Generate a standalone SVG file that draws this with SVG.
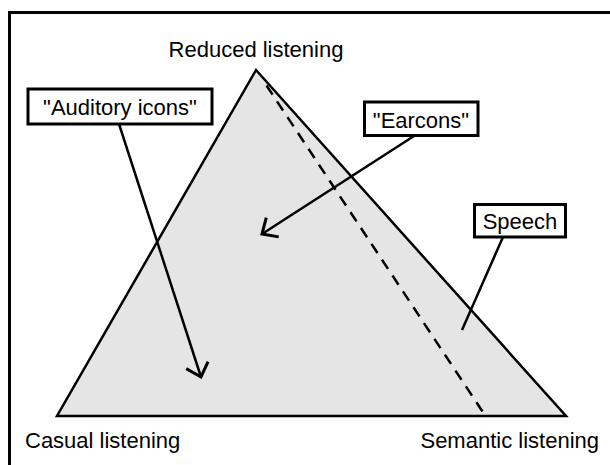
<svg xmlns="http://www.w3.org/2000/svg" width="610" height="465" viewBox="0 0 610 465">
  <style>
    text { font-family: "Liberation Sans", Arial, sans-serif; font-size: 22px; fill: #000; }
    .box { fill: #fff; stroke: #000; stroke-width: 3; }
    .conn { fill: none; stroke: #000; stroke-width: 2.5; }
  </style>
  <defs>
    <marker id="vhead" markerUnits="userSpaceOnUse" markerWidth="40" markerHeight="40" refX="0" refY="0" viewBox="-20 -20 40 40" orient="auto" overflow="visible">
      <path d="M -12.5 -11.5 L 0 0 L -12.5 11.5" fill="none" stroke="#000" stroke-width="3" stroke-linejoin="miter"/>
    </marker>
  </defs>
  <rect width="610" height="465" fill="#fff"/>
  <rect x="9.5" y="12.5" width="620" height="470" fill="none" stroke="#000" stroke-width="3"/>

  <g id="triangle">
    <polygon points="256,70 566,416 57,416" fill="#e5e5e5" stroke="#000" stroke-width="2.5" stroke-linejoin="miter"/>
    <path d="M 266.5 85.5 L 485.5 416" fill="none" stroke="#000" stroke-width="2.5" stroke-dasharray="11 8"/>
  </g>

  <g id="reduced">
    <text x="256" y="57" text-anchor="middle">Reduced listening</text>
  </g>
  <g id="casual">
    <text x="25" y="448">Casual listening</text>
  </g>
  <g id="semantic">
    <text x="599" y="448" text-anchor="end">Semantic listening</text>
  </g>

  <g id="connectors">
    <line class="conn" x1="119" y1="124" x2="201" y2="377" marker-end="url(#vhead)"/>
    <line class="conn" x1="414" y1="136" x2="262" y2="234" marker-end="url(#vhead)"/>
    <line class="conn" x1="503" y1="237" x2="462" y2="330"/>
  </g>

  <g id="auditory">
    <rect class="box" x="28" y="89" width="184" height="35"/>
    <text x="120" y="115" text-anchor="middle">"Auditory icons"</text>
  </g>
  <g id="earcons">
    <rect class="box" x="364.5" y="102" width="113.5" height="33.5"/>
    <text x="421" y="128" text-anchor="middle">"Earcons"</text>
  </g>
  <g id="speech">
    <rect class="box" x="474.5" y="204.5" width="91" height="32.5"/>
    <text x="520" y="229" text-anchor="middle">Speech</text>
  </g>
</svg>
